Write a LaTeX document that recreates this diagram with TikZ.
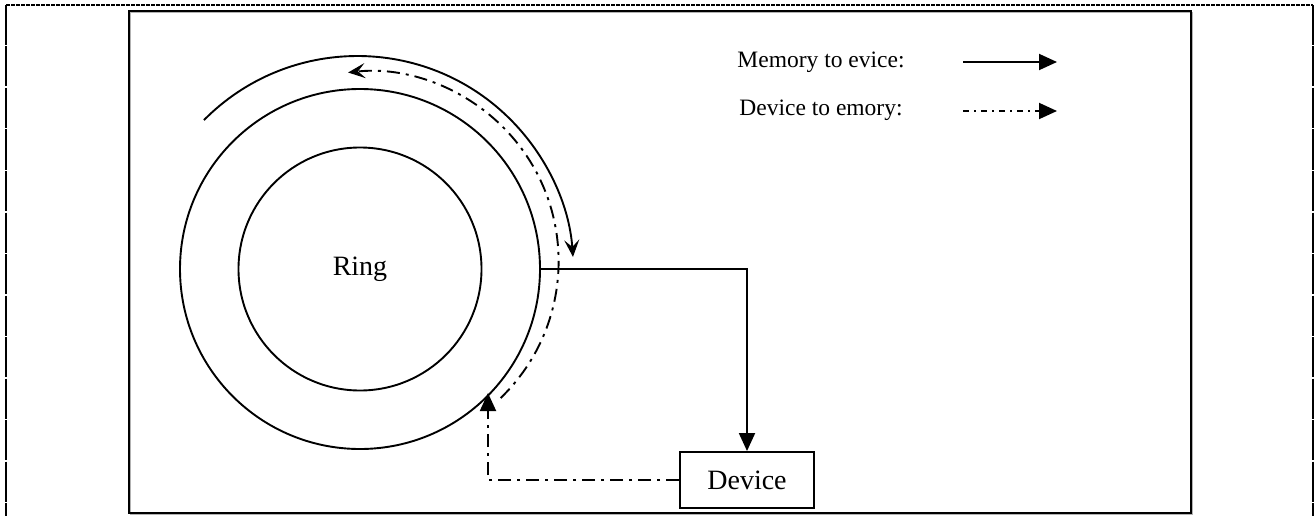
\documentclass[tikz,border=0pt]{standalone}
\usepackage{fontspec}
\setmainfont{Liberation Serif}
\usetikzlibrary{arrows.meta,calc}
\begin{document}
\begin{tikzpicture}[x=1pt,y=-1pt,
  ln/.style={line width=1.9pt},
  dd/.style={line width=1.9pt, dash pattern=on 13pt off 6pt on 3pt off 6pt},
  ddsmall/.style={line width=1.9pt, dash pattern=on 6pt off 5pt on 2pt off 5pt},
  tri/.style={-{Triangle[length=18pt,width=16pt]}},
  stl/.style={-{Stealth[length=17pt,width=15pt,inset=7pt]}},
  bigtext/.style={font=\fontsize{28}{30}\selectfont},
  legtext/.style={font=\fontsize{23.5}{26}\selectfont},
  ringc/.style={circle, draw, ln, inner sep=0pt}]
\useasboundingbox (0,0) rectangle (1316,516);
% page border
\draw[line width=2.6pt, dash pattern=on 3.5pt off 1.5pt] (6,5) -- (1313,5);
\draw[line width=2.6pt, dash pattern=on 40pt off 1.5pt] (6,5) -- (6,516);
\draw[line width=2.6pt, dash pattern=on 40pt off 1.5pt] (1313,5) -- (1313,516);
% frame
\draw[gray!60, line width=1.5pt] (130.5,12.5) rectangle (1192.5,514.5);
\draw[line width=2pt] (129,11) rectangle (1191,513);
% rings
\node[ringc, minimum size=360pt] (outer) at (360,269) {};
\node[ringc, minimum size=243pt, bigtext] (ring) at (360,269) {Ring};
% device
\node[draw, ln, minimum width=134pt, minimum height=56pt, inner sep=0pt, bigtext] (device) at (747,480) {Device};
% memory to device
\draw[ln, tri] (outer.east) -| (device.north);
% device to memory
\coordinate (entry) at (488,393);
\draw[dd, tri] (device.west) -| (entry);
% circulation arcs
\coordinate (sc) at (357.5,272);
\coordinate (dc) at (368.6,261.4);
\draw[ln, stl] ($(sc)+(-135.3:216)$) arc[start angle=-135.3, end angle=-4, radius=216];
\draw[dd, stl] ($(dc)+(46:190)$) arc[start angle=46, end angle=-96.2, radius=190];
% legend
\node[legtext] (l1) at (821,62) {Memory to evice:};
\node[legtext] (l2) at (821,110) {Device to emory:};
\coordinate (a1s) at (963,62);
\coordinate (a1e) at (1057,62);
\coordinate (a2s) at (963,111);
\coordinate (a2e) at (1057,111);
\draw[ln, tri] (a1s) -- (a1e);
\draw[ddsmall, tri] (a2s) -- (a2e);
\end{tikzpicture}
\end{document}
